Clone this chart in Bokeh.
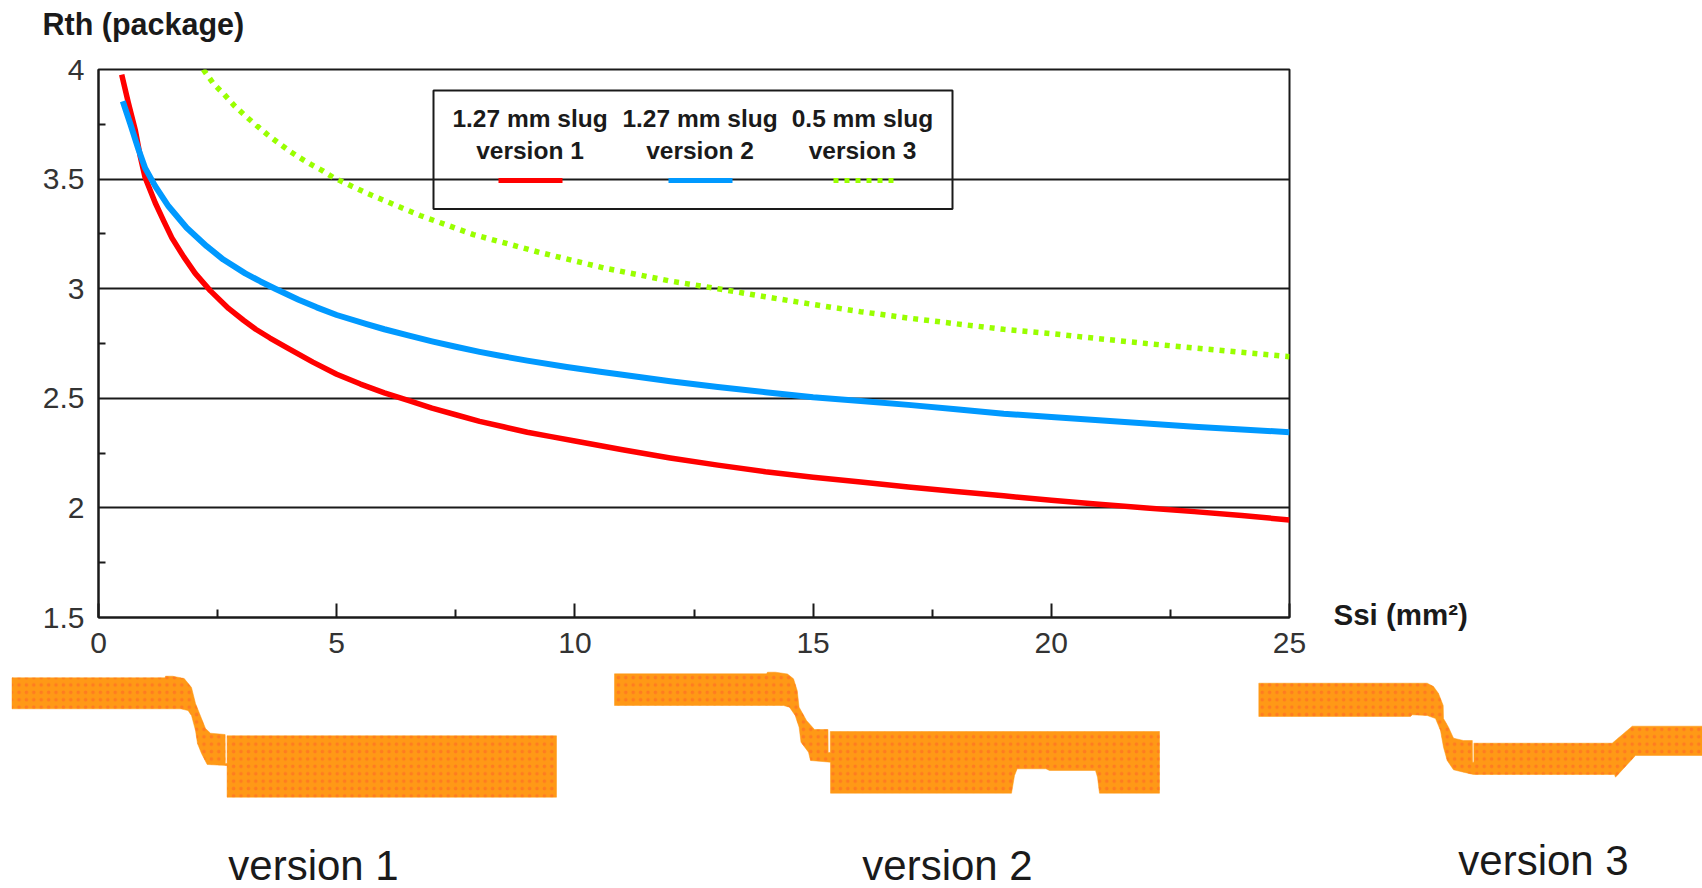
from bokeh.plotting import figure
from bokeh.models import Range1d, FixedTicker, Label, BoxAnnotation
from bokeh.embed import file_html
from bokeh.resources import INLINE

# ---- curve data
red_x = [0.487,0.627,0.77,0.875,0.98,1.19,1.37,1.54,1.79,2.03,2.35,2.73,3.05,3.3,3.6,4,4.5,5,5.5,6,6.5,7,7.5,8,8.5,9,9.5,10,11,12,13,14,15,16,17,18,19,20,21,22,23,24,25]
red_y = [3.977,3.848,3.726,3.605,3.506,3.392,3.308,3.232,3.145,3.07,2.99,2.91,2.855,2.815,2.775,2.725,2.665,2.61,2.565,2.525,2.49,2.455,2.425,2.395,2.37,2.345,2.325,2.305,2.265,2.228,2.195,2.165,2.14,2.118,2.095,2.075,2.055,2.035,2.017,2.0,1.983,1.965,1.945]
blue_x = [0.51,0.67,0.84,0.98,1.19,1.47,1.85,2.27,2.62,3.08,3.4,3.71,4.2,4.58,5,5.63,6,6.5,7,7.5,8,8.43,9,9.83,10.53,11,12,13,14,15,16,17,18,19,20,21,22,23,24,25]
blue_y = [3.855,3.75,3.635,3.55,3.468,3.376,3.278,3.194,3.133,3.07,3.033,3.0,2.95,2.915,2.88,2.838,2.815,2.787,2.76,2.735,2.712,2.694,2.672,2.643,2.621,2.607,2.578,2.552,2.528,2.505,2.488,2.47,2.45,2.43,2.415,2.40,2.385,2.37,2.358,2.345]
green_x = [2.2,2.41,2.64,2.86,3.09,3.31,3.54,3.77,4.01,4.23,4.46,4.69,4.93,5.62,6.75,7.87,9.27,10.6,12,13,14,15,16,17,18,19,20,21,22,23,24,25]
green_y = [4.0,3.936,3.886,3.833,3.787,3.746,3.704,3.666,3.628,3.597,3.567,3.54,3.507,3.437,3.334,3.247,3.165,3.095,3.035,3.0,2.963,2.928,2.895,2.866,2.84,2.815,2.795,2.772,2.75,2.73,2.71,2.69]

x_major = [0,5,10,15,20,25]
x_minor = [2.5,7.5,12.5,17.5,22.5]
y_major = [1.5,2,2.5,3,3.5,4]
y_minor = [1.75,2.25,2.75,3.25,3.75]
y_tick_labels = {1.5:"1.5",2:"2",2.5:"2.5",3:"3",3.5:"3.5",4:"4"}

legend_top = ["1.27 mm slug","1.27 mm slug","0.5 mm slug"]
legend_bot = ["version 1","version 2","version 3"]
caption = ["version 1","version 2","version 3"]

# ---- package cross-section outlines
v1_x = [11.5,164.6,165,172,183.7,191,195,199,205,210,224.6,224.8,226.6,226.6,556,556,226.6,226.6,206.7,201,197,195,191,187.5,180,11.5]
v1_y = [677.3,677.3,675.7,675.7,678,687,703,713,728,732.7,734,763,763,735.3,735.3,796.7,796.7,765,764,753,743,730,715,710,708.3,708.3]
v2_x = [614,766,767,775,787,793,796.7,798.6,806,814,827.5,827.7,829.8,829.8,1159,1159,1099,1097,1095,1049,1045.4,1016.7,1014,1011,830,830,810,808,800.5,798.6,794.7,789,783,768,614]
v2_y = [673.3,673.3,671.7,671.7,673.5,678.3,690,706.7,720,729,729,752,752,731,731,792.7,792.7,776.7,770,770,768.3,768.3,775,792.7,792.7,761.7,760,751.7,741.7,726.7,715,706.7,705,705,705]
v3_x = [1258.3,1426.7,1433,1438,1442.7,1443,1448,1453,1463,1471.8,1472,1473.4,1473.4,1611.7,1626.7,1631.7,1702,1702,1635,1615,1614,1473,1463,1453,1446.7,1443,1440,1435,1426.7,1411.7,1410,1258.3]
v3_y = [682.7,682.7,686,693,705,718,726.7,737.7,740,740,761.7,761.7,742.7,742.7,730,725.7,725.7,755,755,776.7,774,774,771.7,769.3,760,746.7,730,718,715,714.3,716,716]

FONT = "Liberation Sans"
INK = "#1a1a1a"
RED, BLUE, GREEN = "#ff0000", "#0099ff", "#99ff00"

# ---- page-sized backdrop: cross-sections and the texts outside the chart frame
q = figure(width=1702, height=888, x_range=Range1d(0,1702), y_range=Range1d(888,0),
           output_backend="svg", toolbar_location=None, min_border=0, x_axis_type=None, y_axis_type=None)
q.grid.visible=False; q.outline_line_color=None
q.styles={"position":"absolute","left":"0px","top":"0px"}
for xs,ys in ((v1_x,v1_y),(v2_x,v2_y),(v3_x,v3_y)):
    q.patch(xs,ys,fill_color="#ff9916",line_color="#ff9916",line_width=0.5,
            hatch_pattern="dot",hatch_color="#ff7c20",hatch_scale=7.4,hatch_weight=1)
for t,cx,cy in zip(caption,[313,947,1543],[865,865,860]):
    q.add_layout(Label(x=cx,y=cy,text=t,text_font=FONT,text_font_size="42px",text_color=INK,
                       text_align="center",text_baseline="middle"))
q.add_layout(Label(x=42,y=23,text="Rth (package)",text_font=FONT,text_font_style="bold",
                   text_font_size="30.5px",text_color=INK,text_baseline="middle"))
q.add_layout(Label(x=1333,y=614,text="Ssi (mm²)",text_font=FONT,text_font_style="bold",
                   text_font_size="29.5px",text_color=INK,text_baseline="middle"))

# ---- chart
L, T, R, B = 98.0, 69.0, 1289.0, 617.0   # frame in page pixels
TOP_H = 660
p = figure(width=1702, height=TOP_H, x_range=Range1d(0,25), y_range=Range1d(1.5,4),
           output_backend="svg", toolbar_location=None,
           min_border_left=int(L), min_border_right=int(1702-R),
           min_border_top=int(T), min_border_bottom=int(TOP_H-B))
p.background_fill_color=None; p.border_fill_color=None
px = lambda u: (u-L)/(R-L)*25
py = lambda v: 4-(v-T)/(B-T)*2.5

p.outline_line_color=INK; p.outline_line_width=2
p.xgrid.visible=False
p.ygrid.ticker=FixedTicker(ticks=y_major)
p.ygrid.grid_line_color=INK; p.ygrid.grid_line_width=2

ax=p.xaxis[0]
ax.ticker=FixedTicker(ticks=x_major,minor_ticks=x_minor)
ax.major_tick_in=14; ax.major_tick_out=0; ax.minor_tick_in=8; ax.minor_tick_out=0
ax.major_tick_line_width=2; ax.minor_tick_line_width=2
ax.major_tick_line_color=INK; ax.minor_tick_line_color=INK
ax.axis_line_color=INK; ax.axis_line_width=2
ax.major_label_text_font=FONT; ax.major_label_text_font_size="30px"
ax.major_label_text_color="#333333"; ax.major_label_standoff=15

ay=p.yaxis[0]
ay.ticker=FixedTicker(ticks=y_major,minor_ticks=y_minor)
ay.major_label_overrides=y_tick_labels
ay.major_tick_in=0; ay.major_tick_out=0; ay.minor_tick_in=7; ay.minor_tick_out=0
ay.minor_tick_line_width=2; ay.minor_tick_line_color=INK
ay.axis_line_color=INK; ay.axis_line_width=2
ay.major_label_text_font=FONT; ay.major_label_text_font_size="30px"
ay.major_label_text_color="#333333"; ay.major_label_standoff=14

p.line(red_x,red_y,line_color=RED,line_width=5.5,line_join="round")
p.line(green_x,green_y,line_color=GREEN,line_width=5.5,line_dash="5 6")
p.line(blue_x,blue_y,line_color=BLUE,line_width=6,line_join="round")

# legend box (no fill: the gridline runs through it)
p.add_layout(BoxAnnotation(left=px(433),right=px(952),top=py(90),bottom=py(208.5),
                           fill_color=None,line_color=INK,line_alpha=1,line_width=2))
for cx,a,b in zip([529.5,699.5,862],legend_top,legend_bot):
    for txt,yy in ((a,118),(b,150)):
        p.add_layout(Label(x=px(cx),y=py(yy),text=txt,text_font=FONT,text_font_style="bold",
                           text_font_size="24.5px",text_color=INK,text_align="center",text_baseline="middle"))
p.line([px(498),px(562)],[py(180)]*2,line_color=RED,line_width=5)
p.line([px(668),px(732)],[py(180)]*2,line_color=BLUE,line_width=5)
p.line([px(833),px(895)],[py(180)]*2,line_color=GREEN,line_width=5,line_dash="5 6")

open("out.html","w").write(file_html([q,p],INLINE))
